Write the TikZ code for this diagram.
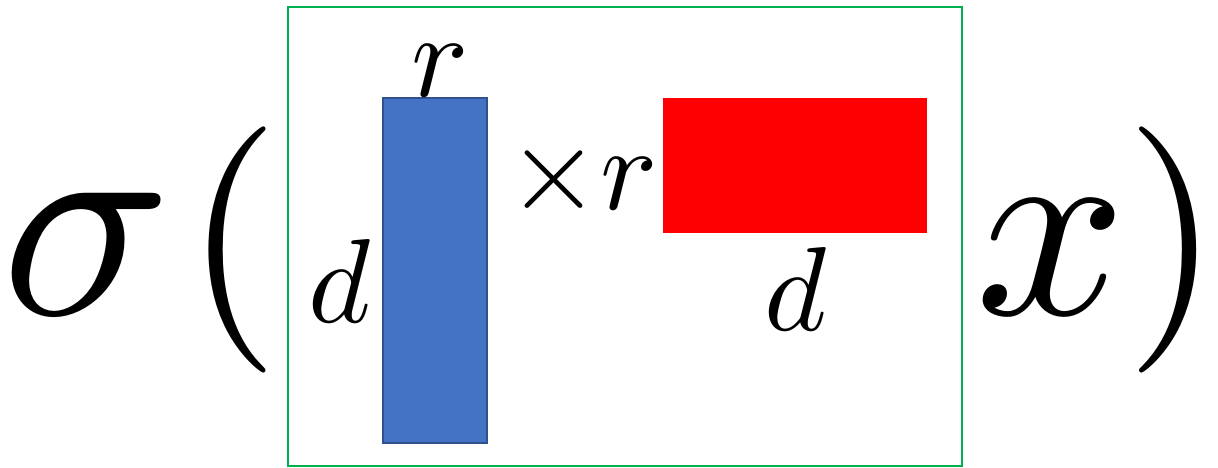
\documentclass[tikz,border=0pt]{standalone}
\usetikzlibrary{positioning}
\definecolor{FrameGreen}{HTML}{00B050}
\definecolor{UFill}{HTML}{4472C4}
\definecolor{ULine}{HTML}{2F528F}
\definecolor{VFill}{HTML}{FF0000}

\begin{document}
\begin{tikzpicture}[
      x=0.01cm,y=-0.01cm,
      big/.style={inner sep=0pt,anchor=base,scale=8},
      paren/.style={inner sep=0pt,scale=7},
      lbl/.style={inner sep=0pt,anchor=base,scale=3.4},
      ublock/.style={draw=ULine,fill=UFill,line width=0.45pt,inner sep=0pt,
        minimum width=1.04cm,minimum height=3.45cm},
      vblock/.style={fill=VFill,inner sep=0pt,
        minimum width=2.64cm,minimum height=1.35cm}
    ]
      \useasboundingbox (0,0) rectangle (1218,468);
      \node[big] (sigma) at (87,315) {$\sigma$};
      \node[paren] (lpar) at (232,250) {$($};
      \draw[FrameGreen,line width=0.7pt] (288,7) rectangle (962,466);
      \node[ublock] (U) at (435,270.5) {};
      \node[vblock] (V) at (795,165.5) {};
      \node[lbl] (rU) at (440,97) {$r$};
      \node[lbl] (dU) at (340,323) {$d$};
      \node[lbl,anchor=base east] (times) at (660,210) {$\times r$};
      \node[lbl] (dV) at (796,331) {$d$};
      \node[big,scale=0.94] (x) at (1051,315) {$x$};
      \node[paren] (rpar) at (1173,250) {$)$};
    \end{tikzpicture}
\end{document}
